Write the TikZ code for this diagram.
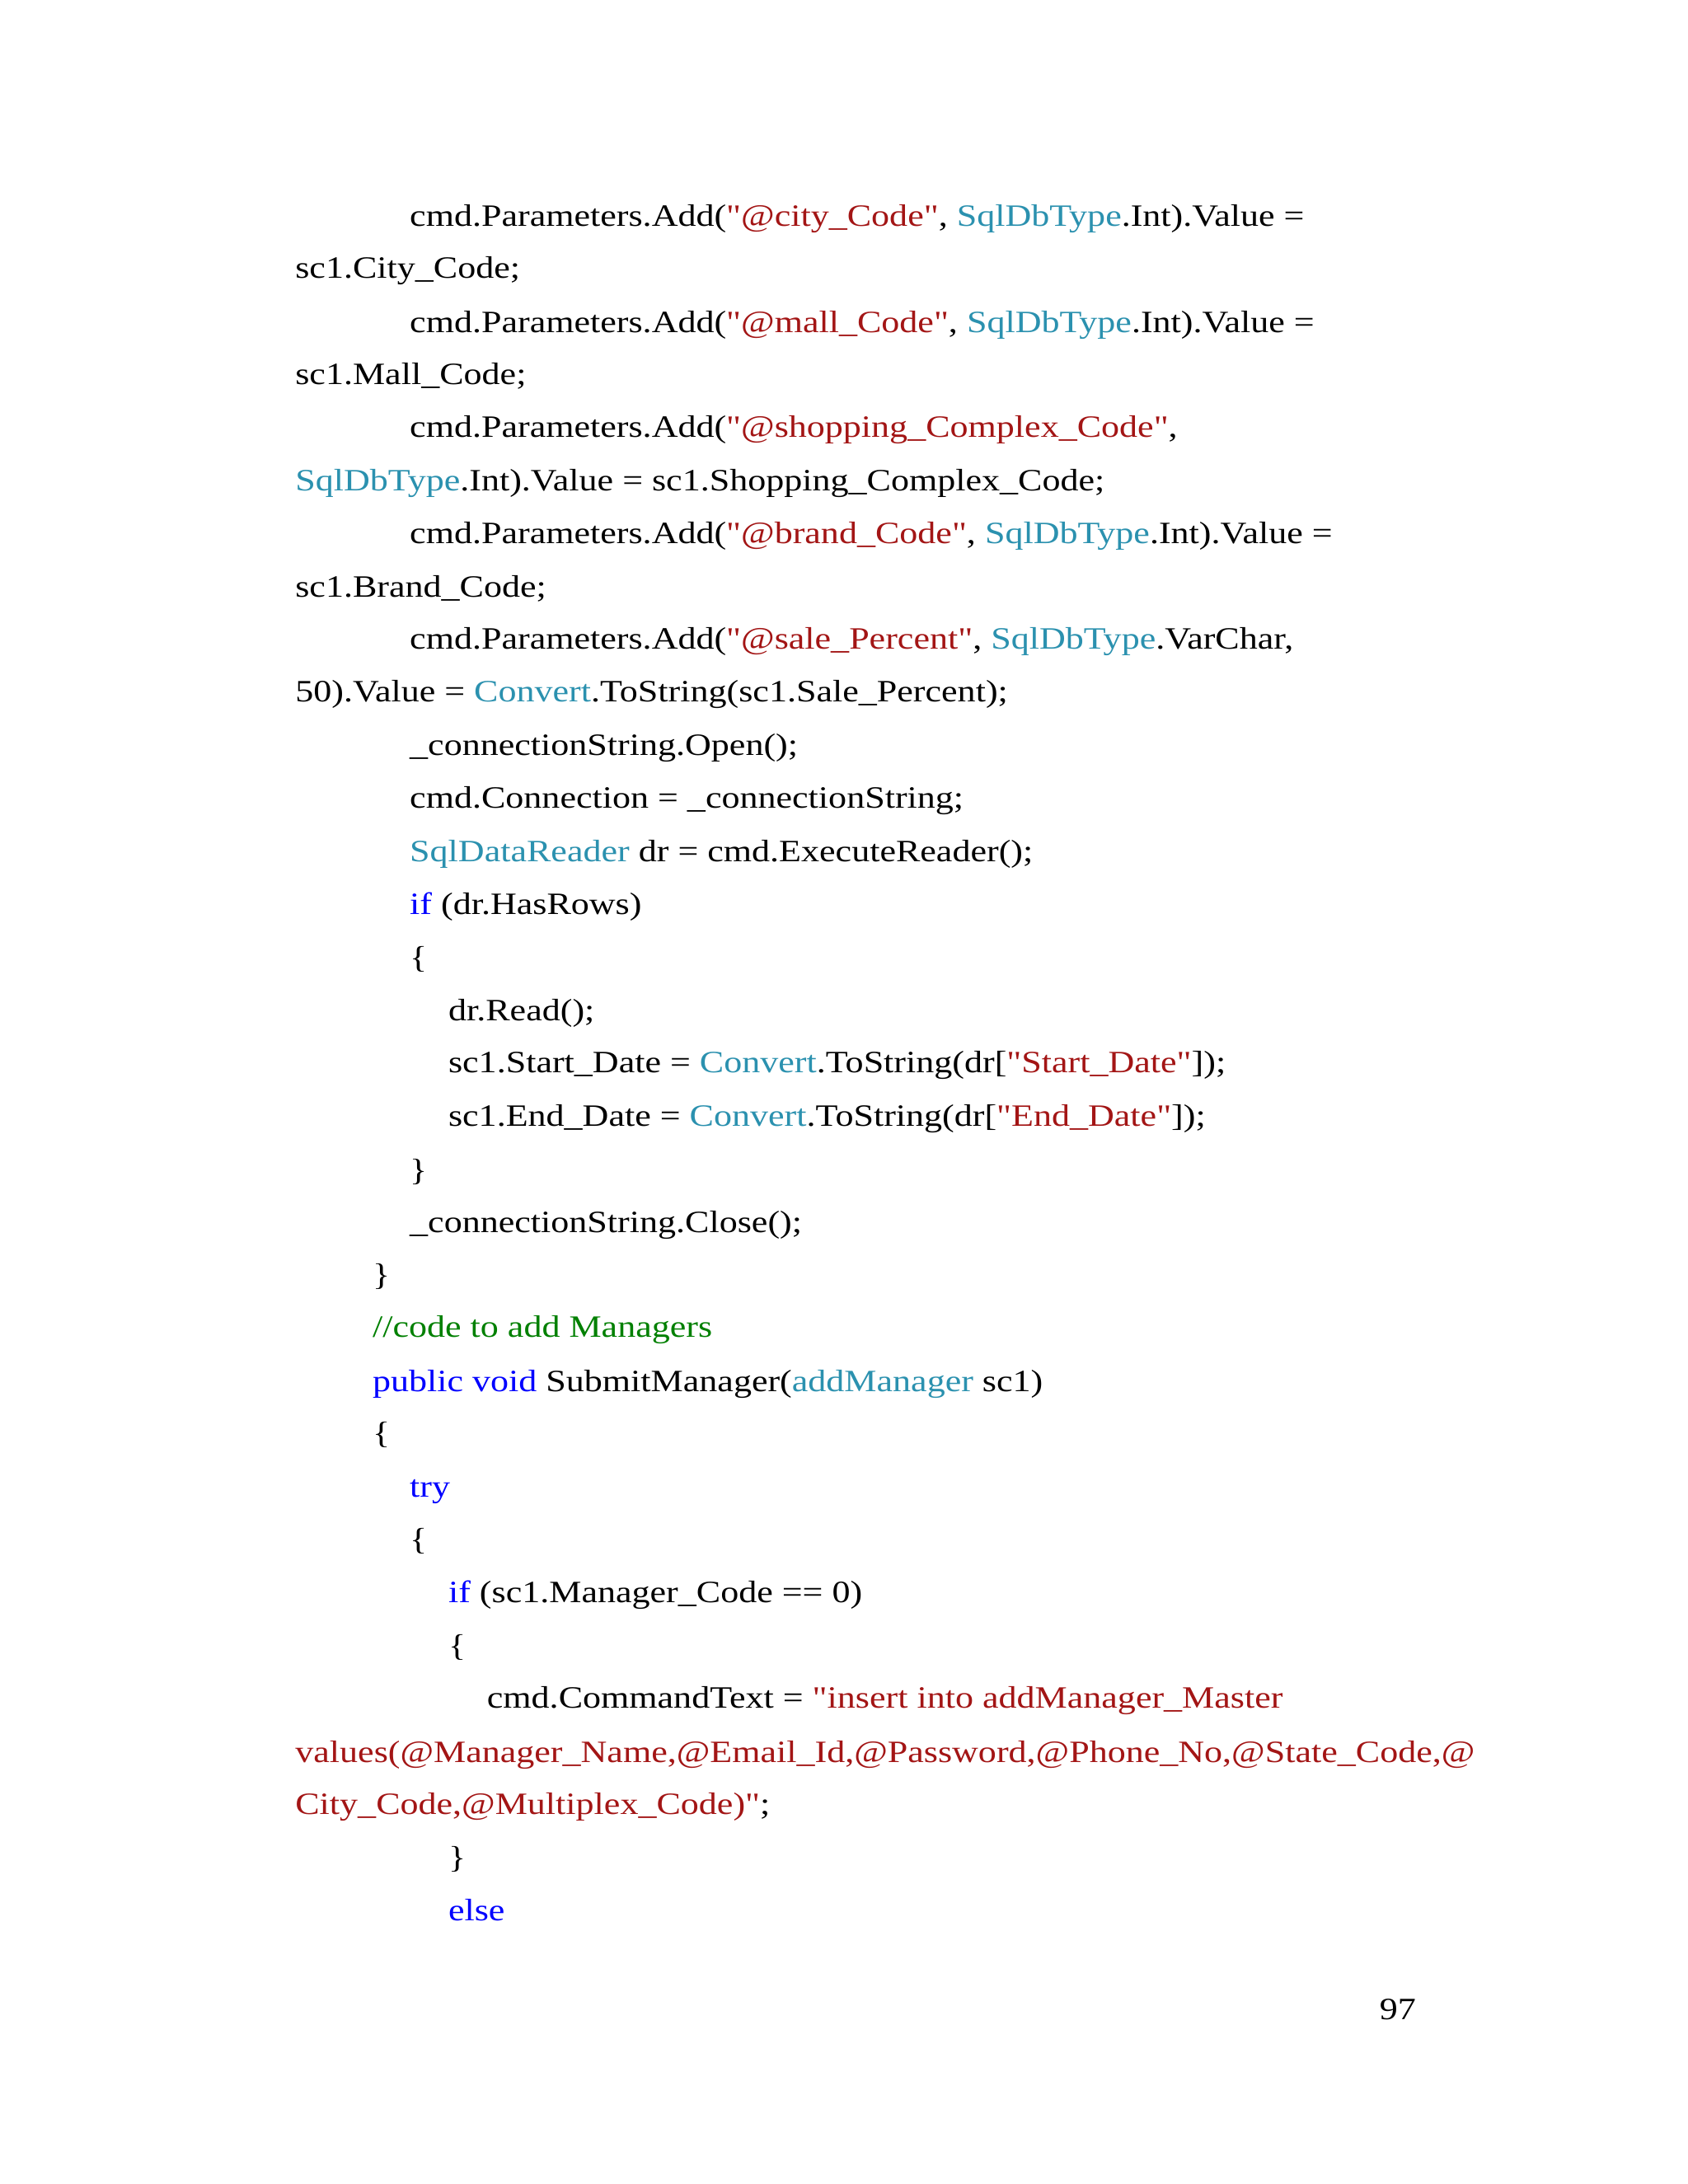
\documentclass[tikz,border=0pt]{standalone}
\usepackage{fontspec}
\setmainfont{Liberation Serif}[Ligatures=TeXOff,FakeStretch=1.17]
\definecolor{cr}{HTML}{A31515}
\definecolor{ct}{HTML}{2B91AF}
\definecolor{cb}{HTML}{0000FF}
\definecolor{cg}{HTML}{008000}
\newcommand{\Rs}[1]{\textcolor{cr}{#1}}
\newcommand{\Ts}[1]{\textcolor{ct}{#1}}
\newcommand{\Bs}[1]{\textcolor{cb}{#1}}
\newcommand{\Gs}[1]{\textcolor{cg}{#1}}
\begin{document}
\begin{tikzpicture}[x=1pt,y=1pt,
  ln/.style={anchor=base west,inner sep=0pt,font=\fontsize{22.5}{26}\selectfont}]
\fill[white] (0,0) rectangle (1224,-1584);
\useasboundingbox (0,0) rectangle (1224,-1584);
\def\a{297}\def\m{214}\def\c{270}\def\d{325}\def\e{353}
\node[ln] (l1) at (\a,-164) {cmd.Parameters.Add(\Rs{"@city\_Code"}, \Ts{SqlDbType}.Int).Value =};
\node[ln] (l2) at (\m,-202) {sc1.City\_Code;};
\node[ln] (l3) at (\a,-241) {cmd.Parameters.Add(\Rs{"@mall\_Code"}, \Ts{SqlDbType}.Int).Value =};
\node[ln] (l4) at (\m,-279) {sc1.Mall\_Code;};
\node[ln] (l5) at (\a,-317) {cmd.Parameters.Add(\Rs{"@shopping\_Complex\_Code"},};
\node[ln] (l6) at (\m,-356) {\Ts{SqlDbType}.Int).Value = sc1.Shopping\_Complex\_Code;};
\node[ln] (l7) at (\a,-394) {cmd.Parameters.Add(\Rs{"@brand\_Code"}, \Ts{SqlDbType}.Int).Value =};
\node[ln] (l8) at (\m,-433) {sc1.Brand\_Code;};
\node[ln] (l9) at (\a,-471) {cmd.Parameters.Add(\Rs{"@sale\_Percent"}, \Ts{SqlDbType}.VarChar,};
\node[ln] (l10) at (\m,-509) {50).Value = \Ts{Convert}.ToString(sc1.Sale\_Percent);};
\node[ln] (l11) at (\a,-548) {\_connectionString.Open();};
\node[ln] (l12) at (\a,-586) {cmd.Connection = \_connectionString;};
\node[ln] (l13) at (\a,-625) {\Ts{SqlDataReader} dr = cmd.ExecuteReader();};
\node[ln] (l14) at (\a,-663) {\Bs{if} (dr.HasRows)};
\node[ln] (l15) at (\a,-702) {\{};
\node[ln] (l16) at (\d,-740) {dr.Read();};
\node[ln] (l17) at (\d,-778) {sc1.Start\_Date = \Ts{Convert}.ToString(dr[\Rs{"Start\_Date"}]);};
\node[ln] (l18) at (\d,-817) {sc1.End\_Date = \Ts{Convert}.ToString(dr[\Rs{"End\_Date"}]);};
\node[ln] (l19) at (\a,-856) {\}};
\node[ln] (l20) at (\a,-894) {\_connectionString.Close();};
\node[ln] (l21) at (\c,-932) {\}};
\node[ln] (l22) at (\c,-970) {\Gs{//code to add Managers}};
\node[ln] (l23) at (\c,-1009) {\Bs{public} \Bs{void} SubmitManager(\Ts{addManager} sc1)};
\node[ln] (l24) at (\c,-1047) {\{};
\node[ln] (l25) at (\a,-1086) {\Bs{try}};
\node[ln] (l26) at (\a,-1124) {\{};
\node[ln] (l27) at (\d,-1162) {\Bs{if} (sc1.Manager\_Code == 0)};
\node[ln] (l28) at (\d,-1201) {\{};
\node[ln] (l29) at (\e,-1239) {cmd.CommandText = \Rs{"insert into addManager\_Master}};
\node[ln] (l30) at (\m,-1278) {\Rs{values(@Manager\_Name,@Email\_Id,@Password,@Phone\_No,@State\_Code,@}};
\node[ln] (l31) at (\m,-1316) {\Rs{City\_Code,@Multiplex\_Code)"};};
\node[ln] (l32) at (\d,-1355) {\}};
\node[ln] (l33) at (\d,-1393) {\Bs{else}};
\node[anchor=base east,inner sep=0pt,font=\fontsize{22.5}{26}\selectfont] (pg) at (1027,-1465) {97};
\end{tikzpicture}
\end{document}
